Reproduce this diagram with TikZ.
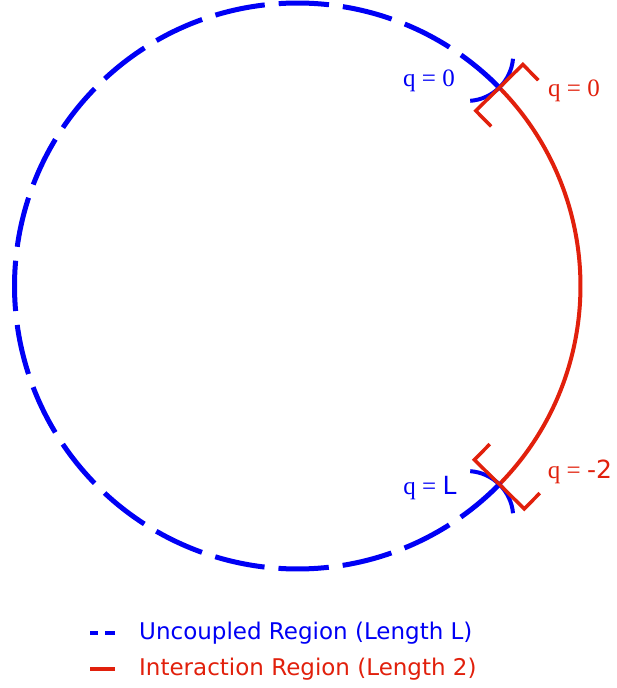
\documentclass[tikz,border=0pt]{standalone}
\usepackage{fontspec}
\setmainfont{Liberation Serif}
\newfontfamily\sansf{DejaVu Sans}
\definecolor{cblue}{RGB}{0,0,245}
\definecolor{cred}{RGB}{225,32,12}
\begin{document}
\begin{tikzpicture}[x=1pt,y=1pt,
  bluearc/.style={cblue,line width=5pt,dash pattern=on 50.4pt off 14pt},
  redarc/.style={cred,line width=4pt},
  bluetick/.style={cblue,line width=4pt},
  redbracket/.style={cred,line width=3.5pt,line join=miter},
  qlab/.style={inner sep=0pt,font=\fontsize{25}{25}\selectfont},
  legtext/.style={anchor=west,inner sep=0pt,font=\sansf\fontsize{23}{23}\selectfont}]
\useasboundingbox (0,0) rectangle (616,688);
\coordinate (O) at (297.5,402);
% uncoupled region (dashed blue)
\draw[bluearc] ([shift={(44.5:283)}]O) arc[start angle=44.5,end angle=315.5,radius=283];
% interaction region (red)
\draw[redarc] ([shift={(-44.5:283)}]O) arc[start angle=-44.5,end angle=44.5,radius=283];
% top junction marks
\begin{scope}[shift={(O)},rotate=44.5]
  \draw[bluetick] ([shift={(-130.3:46.4)}]283,46.4) arc[start angle=-130.3,end angle=-49.7,radius=46.4];
  \draw[redbracket] (250,-22) -- (250,0) -- (316,0) -- (316,-22);
\end{scope}
% bottom junction marks
\begin{scope}[shift={(O)},rotate=-44.5]
  \draw[bluetick] ([shift={(130.3:46.4)}]283,-46.4) arc[start angle=130.3,end angle=49.7,radius=46.4];
  \draw[redbracket] (248,22) -- (248,0) -- (318,0) -- (318,22);
\end{scope}
% labels
\node[qlab,text=cblue] (q0b) at (429,607) {q = 0};
\node[qlab,text=cred] (q0r) at (574,597) {q = 0};
\node[qlab,text=cblue] (qLb) at (430,200) {q = {\sansf L}};
\node[qlab,text=cred] (q2r) at (580,216) {q = {\sansf -2}};
% legend
\draw[cblue,line width=4pt] (90,55) -- (98,55);
\draw[cblue,line width=4pt] (105,55) -- (115,55);
\draw[cred,line width=4pt] (90,19) -- (115,19);
\node[legtext,text=cblue] (leg1) at (139,55) {Uncoupled Region (Length L)};
\node[legtext,text=cred] (leg2) at (139,19) {Interaction Region (Length 2)};
\end{tikzpicture}
\end{document}
